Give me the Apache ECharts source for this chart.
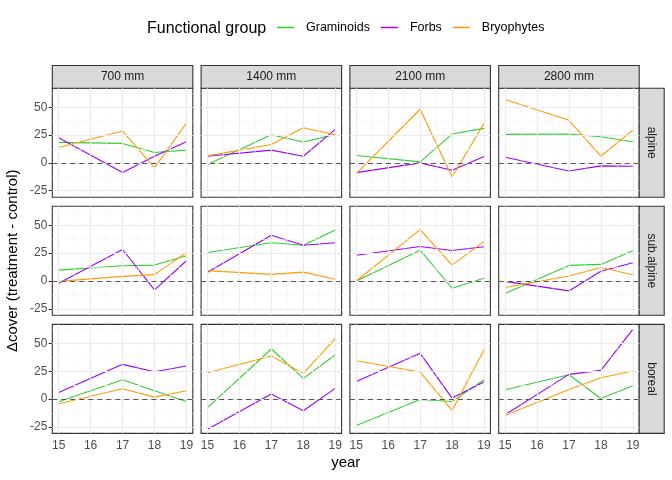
<!DOCTYPE html>
<html><head><meta charset="utf-8">
<script src="https://cdn.jsdelivr.net/npm/echarts@6/dist/echarts.min.js"></script>
<style>html,body{margin:0;padding:0;background:#fff}#c{width:672px;height:480px}</style>
</head><body><div id="c"></div>
<script>
// ---- data ----
const years = [15, 17, 18, 19];
const xTicks = [15, 16, 17, 18, 19];
const yTicks = [-25, 0, 25, 50];
const columns = ['700 mm', '1400 mm', '2100 mm', '2800 mm'];
const rowsNames = ['alpine', 'sub.alpine', 'boreal'];
const groups = ['Graminoids', 'Forbs', 'Bryophytes'];
const groupColors = ['#33CC33', '#9B00FF', '#FF9A00'];

// each array: one list of 4 yearly values per precipitation column
const graminoidsAlpine = [[18.4, 17.5, 9.4, 11.5], [-1.5, 25.3, 18.7, 25.6], [6.6, 0.9, 25.9, 31.0], [25.6, 25.9, 23.5, 19.0]];
const forbsAlpine = [[22.6, -8.7, 6.0, 19.0], [6.0, 11.5, 6.0, 30.1], [-8.7, 0.0, -6.6, 5.7], [5.1, -7.2, -2.7, -3.0]];
const bryophytesAlpine = [[13.9, 28.6, -4.2, 35.6], [6.3, 16.6, 31.6, 25.3], [-9.6, 48.2, -12.6, 35.6], [56.9, 38.3, 6.0, 29.5]];

const graminoidsSubalpine = [[9.8, 13.7, 14.3, 22.7], [25.6, 34.3, 32.1, 45.9], [0.0, 27.7, -6.5, 2.4], [-11.3, 14.0, 14.9, 27.1]];
const forbsSubalpine = [[-2.0, 28.3, -8.0, 18.2], [7.8, 41.1, 32.1, 34.3], [23.2, 31.0, 27.4, 30.7], [-0.3, -8.9, 8.7, 16.4]];
const bryophytesSubalpine = [[-0.3, 4.2, 5.7, 25.6], [9.3, 6.0, 8.0, 1.5], [0.0, 46.2, 14.3, 35.4], [-5.9, 4.5, 12.2, 5.7]];

const graminoidsBoreal = [[-2.4, 17.4, 7.5, -2.1], [-7.7, 45.0, 18.6, 39.6], [-23.7, -0.3, -2.1, 17.4], [8.4, 21.9, 0.6, 12.0]];
const forbsBoreal = [[6.0, 31.2, 24.6, 29.7], [-27.0, 4.5, -10.4, 9.6], [15.9, 41.1, 0.9, 15.3], [-14.0, 22.2, 25.8, 62.7]];
const bryophytesBoreal = [[-4.2, 9.3, 1.8, 7.5], [23.7, 38.7, 23.1, 54.3], [34.5, 24.3, -10.2, 44.4], [-14.7, 8.7, 19.2, 25.2]];

const seriesTable = [
  [graminoidsAlpine, forbsAlpine, bryophytesAlpine],
  [graminoidsSubalpine, forbsSubalpine, bryophytesSubalpine],
  [graminoidsBoreal, forbsBoreal, bryophytesBoreal]
];

// ---- layout ----
const FONT = 'Liberation Sans, Arial, sans-serif';
const gridLefts = [52.3, 201.1, 349.9, 498.7];
const gridTops = [88.2, 206.3, 324.4];
const GW = 140.5, GH = 109;
const X_MIN = 14.8, X_MAX = 19.2, Y_MIN = -30.8, Y_MAX = 67.1;

const grids = [], xAxes = [], yAxes = [], series = [], graphics = [];
const xMinor = xTicks.slice(0, -1).map((v, i) => (v + xTicks[i + 1]) / 2);
const yMinor = [yTicks[0] - 12.5].concat(yTicks.map(v => v + 12.5)).filter(v => v > Y_MIN && v < Y_MAX);

let gi = 0;
for (let r = 0; r < 3; r++) {
  for (let c = 0; c < 4; c++) {
    grids.push({left: gridLefts[c], top: gridTops[r], width: GW, height: GH,
      show: true, backgroundColor: '#fff', borderColor: '#333333', borderWidth: 1.1, containLabel: false});
    const bottom = r === 2, leftCol = c === 0;
    xAxes.push({type: 'value', gridIndex: gi, min: X_MIN, max: X_MAX,
      axisLine: {show: false},
      axisTick: {show: bottom, customValues: xTicks, length: 3.7, lineStyle: {color: '#333333', width: 1}},
      axisLabel: {show: bottom, customValues: xTicks, margin: 6, color: '#4D4D4D', fontSize: 12, fontFamily: FONT},
      splitLine: {show: false}});
    yAxes.push({type: 'value', gridIndex: gi, min: Y_MIN, max: Y_MAX,
      axisLine: {show: false},
      axisTick: {show: leftCol, customValues: yTicks, length: 3.7, lineStyle: {color: '#333333', width: 1}},
      axisLabel: {show: leftCol, customValues: yTicks, margin: 5, color: '#4D4D4D', fontSize: 12, fontFamily: FONT},
      splitLine: {show: false}});
    // background grid lines + zero reference line
    const ml = [];
    xMinor.forEach(v => ml.push({xAxis: v, lineStyle: {color: '#F4F4F4', width: 0.6, type: 'solid'}}));
    yMinor.forEach(v => ml.push({yAxis: v, lineStyle: {color: '#F4F4F4', width: 0.6, type: 'solid'}}));
    xTicks.forEach(v => ml.push({xAxis: v, lineStyle: {color: '#EBEBEB', width: 1.1, type: 'solid'}}));
    yTicks.forEach(v => ml.push({yAxis: v, lineStyle: {color: '#EBEBEB', width: 1.1, type: 'solid'}}));
    series.push({type: 'line', xAxisIndex: gi, yAxisIndex: gi, data: [], z: 1, silent: true,
      markLine: {silent: true, symbol: ['none', 'none'], label: {show: false}, animation: false, data: ml}});
    groups.forEach((g, k) => {
      const vals = seriesTable[r][k][c];
      series.push({name: g, type: 'line', xAxisIndex: gi, yAxisIndex: gi, z: 3,
        data: years.map((y, j) => [y, vals[j]]), showSymbol: false, symbol: 'none',
        lineStyle: {color: groupColors[k], width: 1.1}, itemStyle: {color: groupColors[k]}, animation: false});
    });
    series.push({type: 'line', xAxisIndex: gi, yAxisIndex: gi, data: [], z: 4, silent: true,
      markLine: {silent: true, symbol: ['none', 'none'], label: {show: false}, animation: false,
        data: [{yAxis: 0, lineStyle: {color: '#555555', width: 1.1, type: [5, 4]}}]}});
    gi++;
  }
}

// facet strips
const STRIP_TOP = 65.5, STRIP_H = 22.7;
columns.forEach((name, c) => {
  graphics.push({type: 'rect', shape: {x: gridLefts[c], y: STRIP_TOP, width: GW, height: STRIP_H},
    style: {fill: '#D9D9D9', stroke: '#333333', lineWidth: 1.1}});
  graphics.push({type: 'text', x: gridLefts[c] + GW / 2, y: STRIP_TOP + STRIP_H / 2,
    style: {text: name, fill: '#1A1A1A', font: '12px ' + FONT, align: 'center', verticalAlign: 'middle'}});
});
const SR_LEFT = gridLefts[3] + GW, SR_W = 25;
rowsNames.forEach((name, r) => {
  graphics.push({type: 'rect', shape: {x: SR_LEFT, y: gridTops[r], width: SR_W, height: GH},
    style: {fill: '#D9D9D9', stroke: '#333333', lineWidth: 1.1}});
  graphics.push({type: 'text', x: SR_LEFT + SR_W / 2, y: gridTops[r] + GH / 2, rotation: -Math.PI / 2,
    style: {text: name, fill: '#1A1A1A', font: '12px ' + FONT, align: 'center', verticalAlign: 'middle'}});
});
// axis titles
graphics.push({type: 'text', x: 13, y: (gridTops[0] + gridTops[2] + GH) / 2, rotation: Math.PI / 2,
  style: {text: '\u0394cover (treatment - control)', fill: '#000', font: '15px ' + FONT, align: 'center', verticalAlign: 'middle'}});
graphics.push({type: 'text', x: (gridLefts[0] + gridLefts[3] + GW) / 2, y: 463,
  style: {text: 'year', fill: '#000', font: '15px ' + FONT, align: 'center', verticalAlign: 'middle'}});
// legend title
graphics.push({type: 'text', x: 147, y: 28.5,
  style: {text: 'Functional group', fill: '#000', font: '16px ' + FONT, align: 'left', verticalAlign: 'middle'}});

const chart = echarts.init(document.getElementById('c'), null, {renderer: 'canvas'});
chart.setOption({
  animation: false,
  backgroundColor: '#fff',
  legend: {data: groups, left: 272, top: 16, icon: 'rect', itemWidth: 17, itemHeight: 1.5, itemGap: 11,
    textStyle: {color: '#000', fontSize: 12.5, fontFamily: FONT, padding: [0, 0, 0, 7]}, selectedMode: false},
  grid: grids, xAxis: xAxes, yAxis: yAxes, series: series, graphic: graphics
});
</script></body></html>
